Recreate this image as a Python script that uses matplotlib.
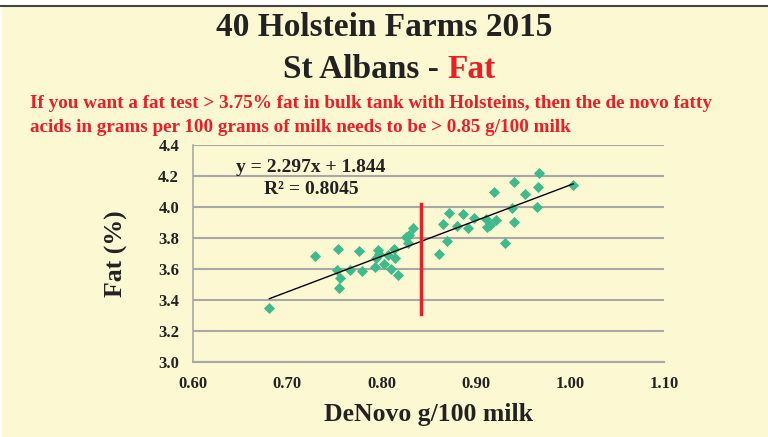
import matplotlib.pyplot as plt
from matplotlib.patches import Rectangle
import numpy as np

plt.rcParams['font.family'] = ['Liberation Serif', 'DejaVu Serif']
plt.rcParams['font.weight'] = 'bold'

# farm data: de novo fatty acids (g/100 g milk) vs fat %
denovo = [0.681, 0.7295, 0.754, 0.7525, 0.756, 0.7547, 0.7667, 0.776, 0.779,
          0.7935, 0.7964, 0.7975, 0.794, 0.8028, 0.807, 0.8105, 0.813, 0.814,
          0.8176, 0.8258, 0.829, 0.828, 0.834, 0.861, 0.8657, 0.8696, 0.8714,
          0.880, 0.8863, 0.8923, 0.8983, 0.911, 0.9124, 0.9153, 0.9217, 0.9195,
          0.9315, 0.9386, 0.9404, 0.9408, 0.9524, 0.9652, 0.966, 0.9673, 1.0037]
fat = [3.350, 3.684, 3.731, 3.594, 3.544, 3.477, 3.594, 3.714, 3.585,
       3.615, 3.721, 3.695, 3.672, 3.630, 3.688, 3.602, 3.727, 3.671,
       3.561, 3.808, 3.821, 3.770, 3.866, 3.697, 3.890, 3.779, 3.963,
       3.877, 3.956, 3.862, 3.931, 3.923, 3.873, 3.884, 3.918, 4.095,
       3.768, 3.995, 3.901, 4.163, 4.084, 4.000, 4.127, 4.219, 4.144]

slope, intercept = 2.297, 1.844
r2 = 0.8045
target_x = 0.842
target_y = [3.31, 4.02]

xticks = [0.60, 0.70, 0.80, 0.90, 1.00, 1.10]
yticks = [3.0, 3.2, 3.4, 3.6, 3.8, 4.0, 4.2, 4.4]

W, H = 768, 437
bg = '#FCF8D2'
ink = '#222222'
red = '#EE1C25'

fig = plt.figure(figsize=(W / 100, H / 100), dpi=100, facecolor='white')
fig.patches.append(Rectangle((2 / W, 0), 1, 1 - 6 / H, transform=fig.transFigure,
                             facecolor=bg, edgecolor='none', zorder=-2))
fig.add_artist(plt.Line2D([0, 1], [1 - 5.5 / H] * 2, transform=fig.transFigure,
                          color='#444444', lw=1.5))

ax = fig.add_axes([193 / W, 1 - 362 / H, (664 - 193) / W, (362 - 145) / H])
ax.set_facecolor(bg)

ax.scatter(denovo, fat, marker='D', s=32, color='#3DBB8C', zorder=3, linewidths=0)
xs = np.array([min(denovo), max(denovo)])
ax.plot(xs, slope * xs + intercept, color='black', lw=1.0, zorder=4)
ax.plot([target_x, target_x], target_y, color=red, lw=2.5, zorder=5)

ax.set_xlim(0.60, 1.10)
ax.set_ylim(3.0, 4.4)
ax.set_xticks(xticks)
ax.set_xticklabels([f'{v:.2f}' for v in xticks])
ax.set_yticks(yticks)
ax.set_yticklabels([f'{v:.1f}' for v in yticks])
ax.tick_params(length=0, labelsize=12, pad=10, colors=ink)
ax.grid(axis='y', color='#A8A8A8', lw=1.5)
ax.set_axisbelow(True)
for s in ['top', 'right']:
    ax.spines[s].set_visible(False)
ax.spines['left'].set_color('#A8A8A8')
ax.spines['bottom'].set_color('#A8A8A8')
ax.spines['left'].set_linewidth(1.2)
ax.spines['bottom'].set_linewidth(1.5)

ax.set_xlabel('DeNovo g/100 milk', fontsize=18.5, fontweight='bold', color=ink, labelpad=8)
ax.set_ylabel('Fat (%)', fontsize=18.5, fontweight='bold', color=ink, labelpad=22)

fig.text(311 / W, 1 - 167 / H, f'y = {slope}x + {intercept}', fontsize=14,
         ha='center', va='center', color=ink)
fig.text(311 / W, 1 - 189 / H, f'R² = {r2}', fontsize=14,
         ha='center', va='center', color=ink)

fig.text(0.5, 1 - 27 / H, '40 Holstein Farms 2015', ha='center', va='center',
         fontsize=24, color=ink)
fig.text(447 / W, 1 - 70 / H, 'St Albans - ', ha='right', va='center',
         fontsize=24, color=ink)
fig.text(447 / W, 1 - 70 / H, 'Fat', ha='left', va='center', fontsize=24, color=red)

fig.text(30 / W, 1 - 103 / H,
         'If you want a fat test > 3.75% fat in bulk tank with Holsteins, then the de novo fatty',
         ha='left', va='center', fontsize=13.8, color=red)
fig.text(30 / W, 1 - 128 / H,
         'acids in grams per 100 grams of milk needs to be > 0.85 g/100 milk',
         ha='left', va='center', fontsize=13.8, color=red)

fig.savefig('out.png', dpi=100, facecolor=fig.get_facecolor())
